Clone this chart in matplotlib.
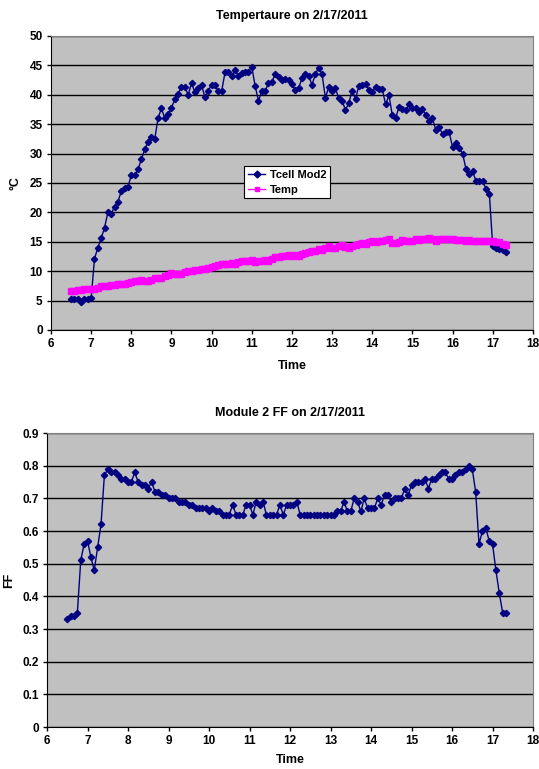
import numpy as np
import matplotlib
matplotlib.use("Agg")
import matplotlib.pyplot as plt

plt.rcParams['font.family'] = ['Liberation Sans', 'DejaVu Sans']
plt.rcParams['font.weight'] = 'bold'

#######################################
# DATA (5-minute samples, 6:30 to 17:20)

tcell = [5.3, 5.3, 5.3, 4.8, 5.2, 5.3, 5.4,
         12.1, 14.0, 15.6, 17.4, 20.0, 19.7, 21.0, 21.8, 23.6, 24.2, 24.4, 26.3,
         26.3, 27.3, 29.0, 30.7, 32.0, 32.8, 32.5, 36.0, 37.7, 36.0, 36.7, 37.7,
         39.3, 40.2, 41.4, 41.3, 40.0, 42.0, 40.4, 41.2, 41.6, 39.6, 40.7, 41.7,
         41.6, 40.6, 40.6, 43.8, 43.8, 43.2, 44.2, 43.2, 43.7, 43.9, 43.8, 44.8,
         41.5, 39.0, 40.6, 40.6, 42.0, 42.2, 43.5, 43.0, 42.5, 42.7, 42.5, 41.9,
         40.8, 41.1, 42.8, 43.5, 43.2, 41.7, 43.5, 44.6, 43.5, 39.5, 41.3, 40.7,
         41.1, 39.4, 39.0, 37.4, 38.6, 40.7, 39.3, 41.5, 41.6, 41.9, 40.8, 40.4,
         41.4, 41.0, 40.9, 38.4, 39.9, 36.5, 36.0, 38.0, 37.5, 37.4, 38.4, 37.8,
         37.7, 37.0, 37.5, 36.6, 35.5, 36.0, 34.0, 34.5, 33.3, 33.6, 33.6, 31.1,
         31.8, 30.9, 30.0, 27.4, 26.5, 27.0, 25.3, 25.3, 25.3, 24.0, 23.2, 14.3,
         14.0, 13.8, 13.6, 13.3]

temp = [6.7, 6.7, 6.8, 6.8, 6.9, 6.9, 6.9,
        7.0, 7.2, 7.4, 7.5, 7.5, 7.6, 7.7, 7.8, 7.8, 7.8, 8.0, 8.1,
        8.3, 8.4, 8.5, 8.3, 8.4, 8.5, 8.8, 8.8, 8.9, 9.2, 9.4, 9.7,
        9.5, 9.5, 9.6, 9.8, 10.1, 10.1, 10.2, 10.2, 10.3, 10.3, 10.6, 10.7,
        10.9, 11.0, 11.2, 11.2, 11.2, 11.4, 11.2, 11.5, 11.7, 11.7, 11.8, 11.9,
        11.5, 11.7, 11.8, 11.9, 11.8, 12.0, 12.4, 12.4, 12.5, 12.6, 12.7, 12.6,
        12.8, 12.6, 13.0, 13.1, 13.2, 13.4, 13.4, 13.7, 13.6, 13.9, 14.2, 13.9,
        14.0, 14.2, 14.4, 14.1, 14.0, 14.2, 14.4, 14.6, 14.8, 14.7, 14.9, 15.1,
        15.0, 15.2, 15.2, 15.3, 15.4, 14.8, 14.8, 15.0, 15.3, 15.2, 15.2, 15.1,
        15.4, 15.3, 15.4, 15.5, 15.6, 15.4, 15.2, 15.4, 15.4, 15.4, 15.5, 15.5,
        15.3, 15.3, 15.3, 15.2, 15.3, 15.2, 15.2, 15.1, 15.1, 15.2, 15.2, 15.1,
        15.0, 14.9, 14.7, 14.5]

ff = [0.33, 0.34, 0.34, 0.35, 0.51, 0.56, 0.57,
      0.52, 0.48, 0.55, 0.62, 0.77, 0.79, 0.78, 0.78, 0.77, 0.76, 0.76, 0.75,
      0.75, 0.78, 0.75, 0.74, 0.74, 0.73, 0.75, 0.72, 0.72, 0.71, 0.71, 0.70,
      0.70, 0.70, 0.69, 0.69, 0.69, 0.68, 0.68, 0.67, 0.67, 0.67, 0.67, 0.66,
      0.67, 0.66, 0.66, 0.65, 0.65, 0.65, 0.68, 0.65, 0.65, 0.65, 0.68, 0.68,
      0.65, 0.69, 0.68, 0.69, 0.65, 0.65, 0.65, 0.65, 0.68, 0.65, 0.68, 0.68,
      0.68, 0.69, 0.65, 0.65, 0.65, 0.65, 0.65, 0.65, 0.65, 0.65, 0.65, 0.65,
      0.65, 0.66, 0.66, 0.69, 0.66, 0.66, 0.70, 0.69, 0.66, 0.70, 0.67, 0.67,
      0.67, 0.70, 0.68, 0.71, 0.71, 0.69, 0.70, 0.70, 0.70, 0.73, 0.71, 0.74,
      0.75, 0.75, 0.75, 0.76, 0.73, 0.76, 0.76, 0.77, 0.78, 0.78, 0.76, 0.76,
      0.77, 0.78, 0.78, 0.79, 0.80, 0.79, 0.72, 0.56, 0.60, 0.61, 0.57, 0.56,
      0.48, 0.41, 0.35, 0.35]

start_hour = 6.5
step_hour = 5 / 60
time = start_hour + step_hour * np.arange(len(tcell))

xticks = list(range(6, 19))

#######################################
# STYLE HELPER

def excel_axes(ax):
    ax.set_facecolor('#C0C0C0')
    ax.set_xlim(6, 18)
    ax.set_xticks(xticks)
    ax.grid(axis='y', color='black', linewidth=1)
    ax.set_axisbelow(True)
    for side in ['top', 'right']:
        ax.spines[side].set_color('#808080')
    for side in ['left', 'bottom']:
        ax.spines[side].set_color('black')
    ax.tick_params(direction='out', length=3, width=1, labelsize=8.5, pad=3)
    for lab in ax.get_xticklabels() + ax.get_yticklabels():
        lab.set_fontweight('bold')


fig = plt.figure(figsize=(5.39, 7.69), dpi=100)

#######################################
# TOP: TEMPERATURE

ax1 = fig.add_axes([0.0946, 0.5709, 0.894, 0.3823])
ax1.plot(time, tcell, color='#000080', linewidth=1, marker='D',
         markersize=3.2, label='Tcell Mod2')
ax1.plot(time, temp, color='#FF00FF', linewidth=1, marker='s',
         markersize=5, label='Temp')
ax1.set_ylim(0, 50)
ax1.set_yticks(range(0, 51, 5))
excel_axes(ax1)
ax1.set_title('Tempertaure on 2/17/2011', fontsize=9, fontweight='bold', pad=12)
ax1.set_xlabel('Time', fontsize=9, fontweight='bold', labelpad=7)
ax1.set_ylabel('°C', fontsize=9, fontweight='bold', labelpad=6)
leg = ax1.legend(loc='center', bbox_to_anchor=(0.49, 0.503), fontsize=8,
                 fancybox=False, framealpha=1, edgecolor='black',
                 handlelength=1.6, handletextpad=0.4, borderpad=0.35,
                 borderaxespad=0, labelspacing=0.45)
leg.get_frame().set_linewidth(0.8)
for t in leg.get_texts():
    t.set_fontweight('bold')
for h in leg.legend_handles:
    h.set_markersize(3.5)

#######################################
# BOTTOM: FILL FACTOR

ax2 = fig.add_axes([0.0872, 0.0546, 0.9017, 0.3823])
ax2.plot(time, ff, color='#000080', linewidth=1, marker='D', markersize=3.2)
ax2.set_ylim(0, 0.9)
ax2.set_yticks(np.round(np.arange(0, 0.91, 0.1), 1))
ax2.set_yticklabels(['0', '0.1', '0.2', '0.3', '0.4', '0.5', '0.6', '0.7', '0.8', '0.9'])
excel_axes(ax2)
ax2.set_title('Module 2 FF on 2/17/2011', fontsize=9, fontweight='bold', pad=12)
ax2.set_xlabel('Time', fontsize=9, fontweight='bold', labelpad=5)
ax2.set_ylabel('FF', fontsize=9, fontweight='bold', labelpad=5)

fig.savefig('out.png', dpi=100)
